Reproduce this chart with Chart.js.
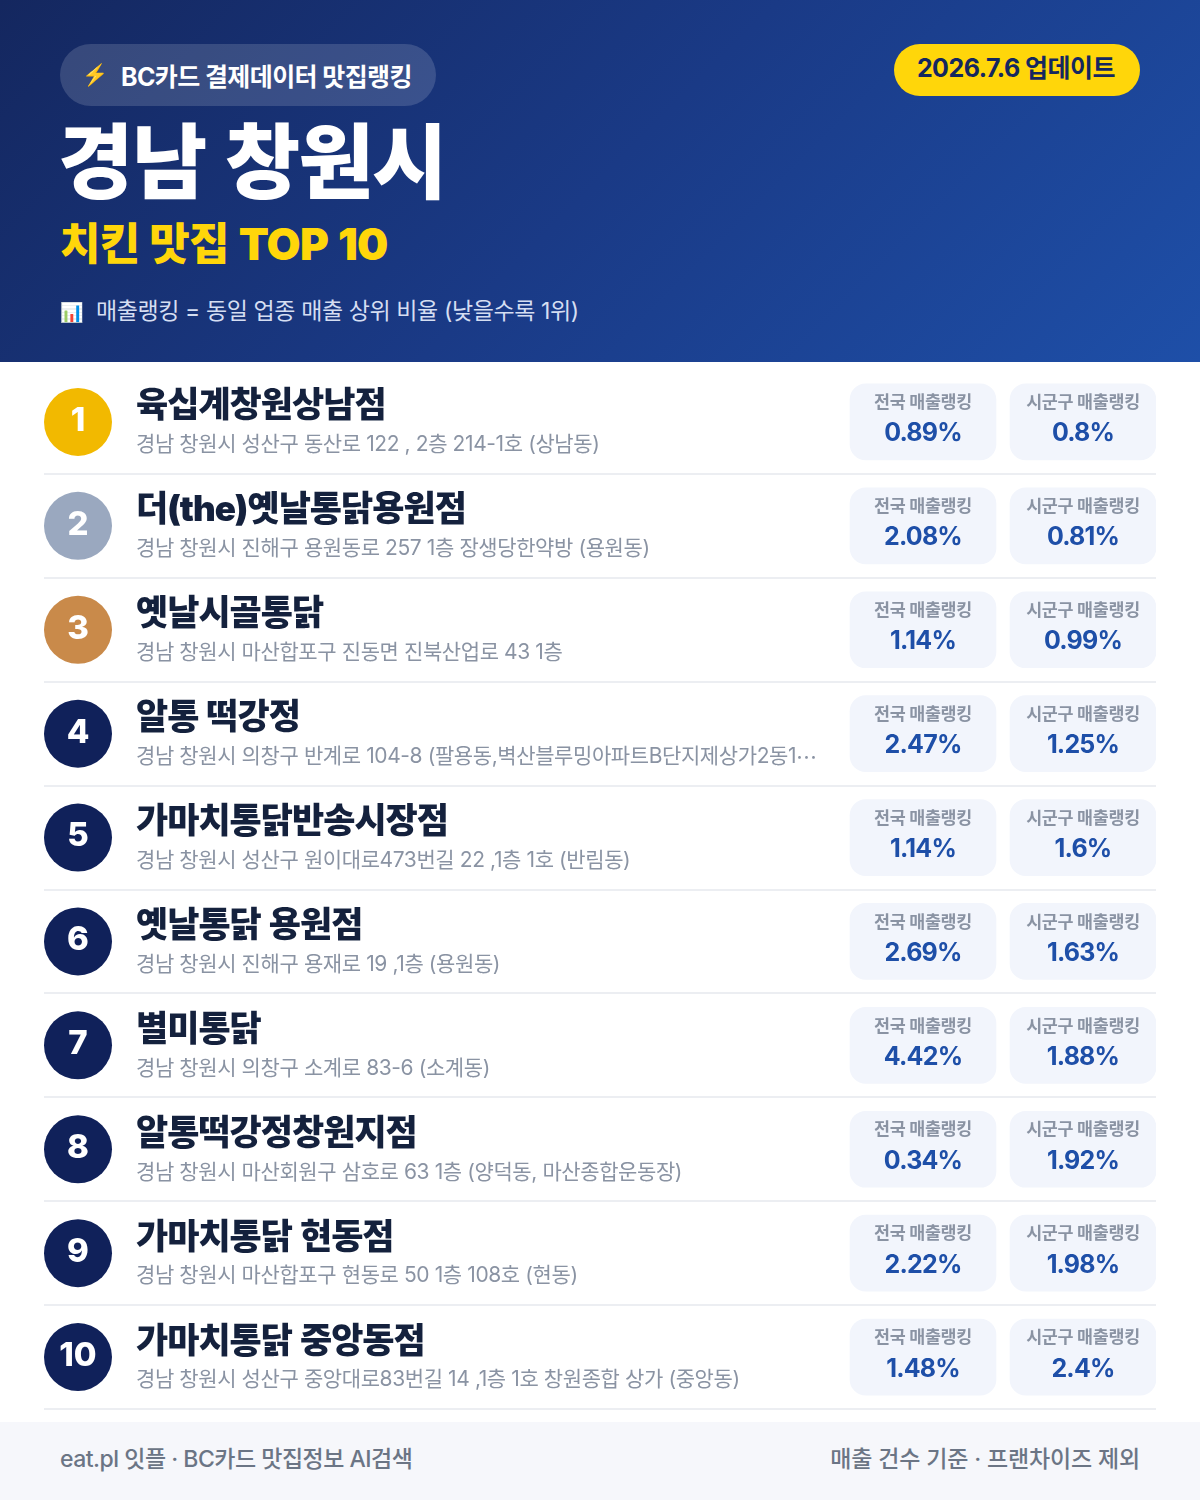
<!DOCTYPE html>
<html lang="ko">
<head>
<meta charset="utf-8">
<style>
  html, body { margin: 0; padding: 0; background: #fff; }
  body { width: 1200px; height: 1500px; position: relative; overflow: hidden; font-family: Inter, "Noto Sans CJK KR", sans-serif; }
  .header { position: absolute; left: 0; top: 0; width: 1200px; height: 362px; background: linear-gradient(135deg, #14275f 0%, #1a3a86 50%, #1e4fa8 100%); color: #fff; }
  .badge { position: absolute; left: 60px; top: 44px; width: 376px; height: 62px; border-radius: 31px; background: rgba(255,255,255,0.15); font-size: 25px; font-weight: 700; line-height: 67px; letter-spacing: -0.6px; white-space: nowrap; }
  .badge .bolt { position: absolute; left: 22px; font-size: 21px; line-height: 62px; }
  .badge .txt { position: absolute; left: 61px; }
  .update { position: absolute; left: 894px; top: 44px; width: 244px; height: 52px; border-radius: 26px; background: #ffd60a; color: #14275f; font-size: 25px; font-weight: 700; line-height: 49px; text-align: center; letter-spacing: -0.5px; padding-right: 2px; }
  .city { position: absolute; left: 58px; top: 108px; font-size: 82px; font-weight: 900; line-height: 110px; letter-spacing: -1.8px; word-spacing: 5px; white-space: nowrap; }
  .sub { position: absolute; left: 60px; top: 210px; font-size: 44px; font-weight: 900; line-height: 68px; color: #ffd60a; letter-spacing: -0.8px; word-spacing: 2px; white-space: nowrap; }
  .note { position: absolute; left: 60px; top: 292px; font-size: 23px; line-height: 38px; color: #d5def2; letter-spacing: -0.4px; }
  .note .icon { font-size: 19px; }
  .note .txt { position: absolute; left: 36px; white-space: nowrap; }
  .chart-wrap { position: absolute; left: 0; top: 362px; width: 1200px; height: 1060px; }
  .footer { position: absolute; left: 0; top: 1422px; width: 1200px; height: 78px; background: #f6f7fb; color: #6b7585; font-size: 23px; font-weight: 500; line-height: 74px; }
  .footer .l { position: absolute; left: 60px; letter-spacing: -0.5px; }
  .footer .r { position: absolute; right: 60px; letter-spacing: -0.15px; }
</style>
</head>
<body>
<div class="header">
  <div class="badge"><span class="bolt">⚡</span><span class="txt">BC카드 결제데이터 맛집랭킹</span></div>
  <div class="update">2026.7.6 업데이트</div>
  <div class="city">경남 창원시</div>
  <div class="sub">치킨 맛집 TOP 10</div>
  <div class="note"><span class="icon">📊</span><span class="txt">매출랭킹 = 동일 업종 매출 상위 비율 (낮을수록 1위)</span></div>
</div>
<div class="chart-wrap"><canvas id="rankChart" width="1200" height="1060"></canvas></div>
<div class="footer"><span class="l">eat.pl 잇플 · BC카드 맛집정보 AI검색</span><span class="r">매출 건수 기준 · 프랜차이즈 제외</span></div>

<script src="https://cdn.jsdelivr.net/npm/chart.js@4/dist/chart.umd.min.js"></script>
<script>
const ranks = ['1', '2', '3', '4', '5', '6', '7', '8', '9', '10'];
const names = ['육십계창원상남점', '더(the)옛날통닭용원점', '옛날시골통닭', '알통 떡강정', '가마치통닭반송시장점', '옛날통닭 용원점', '별미통닭', '알통떡강정창원지점', '가마치통닭 현동점', '가마치통닭 중앙동점'];
const addresses = [
  '경남 창원시 성산구 동산로 122 , 2층 214-1호 (상남동)',
  '경남 창원시 진해구 용원동로 257 1층 장생당한약방 (용원동)',
  '경남 창원시 마산합포구 진동면 진북산업로 43 1층',
  '경남 창원시 의창구 반계로 104-8 (팔용동,벽산블루밍아파트B단지제상가2동1…',
  '경남 창원시 성산구 원이대로473번길 22 ,1층 1호 (반림동)',
  '경남 창원시 진해구 용재로 19 ,1층 (용원동)',
  '경남 창원시 의창구 소계로 83-6 (소계동)',
  '경남 창원시 마산회원구 삼호로 63 1층 (양덕동, 마산종합운동장)',
  '경남 창원시 마산합포구 현동로 50 1층 108호 (현동)',
  '경남 창원시 성산구 중앙대로83번길 14 ,1층 1호 창원종합 상가 (중앙동)'
];
const nationalLabel = '전국 매출랭킹';
const localLabel = '시군구 매출랭킹';
const nationalRank = [0.89, 2.08, 1.14, 2.47, 1.14, 2.69, 4.42, 0.34, 2.22, 1.48];
const localRank = [0.8, 0.81, 0.99, 1.25, 1.6, 1.63, 1.88, 1.92, 1.98, 2.4];
const circleColors = ['#f2b900', '#9aa8bf', '#c98a4a', '#10215a', '#10215a', '#10215a', '#10215a', '#10215a', '#10215a', '#10215a'];

// x axis runs in page pixels, so circles and pills sit where the layout wants them
const nationalPill = [850, 996];
const localPill = [1010, 1156];
const circleX = 78;
const fontStack = 'Inter, "Noto Sans CJK KR", sans-serif';

function fnt(weight, size) {
    return weight + ' ' + size + 'px ' + fontStack;
}

const rowText = {
    id: 'rowText',
    afterDatasetsDraw(chart) {
        const ctx = chart.ctx;
        const y = chart.scales.y;
        const x = chart.scales.x;
        const natX = x.getPixelForValue((nationalPill[0] + nationalPill[1]) / 2);
        const locX = x.getPixelForValue((localPill[0] + localPill[1]) / 2);
        ctx.save();
        ctx.textBaseline = 'middle';
        ranks.forEach(function(rank, i) {
            const cy = y.getPixelForValue(i);
            ctx.textAlign = 'center';
            ctx.fillStyle = '#fff';
            ctx.letterSpacing = '0px';
            ctx.wordSpacing = '0px';
            ctx.font = fnt(800, 33);
            ctx.fillText(rank, x.getPixelForValue(circleX), cy - 1);

            ctx.textAlign = 'left';
            ctx.fillStyle = '#14213d';
            ctx.letterSpacing = '-1px';
            ctx.wordSpacing = '2px';
            ctx.font = fnt(900, 35);
            ctx.fillText(names[i], 136, cy - 15);

            ctx.fillStyle = '#8a93a3';
            ctx.letterSpacing = '-0.4px';
            ctx.wordSpacing = '0px';
            ctx.font = fnt(400, 21);
            // the cut-off mark comes from the CJK face, which sets it mid-height
            var addr = addresses[i];
            var cut = addr.endsWith('…');
            if (cut) addr = addr.slice(0, -1);
            ctx.fillText(addr, 136, cy + 23);
            if (cut) {
                var w = ctx.measureText(addr).width;
                ctx.font = '400 21px "Noto Sans CJK KR", sans-serif';
                ctx.fillText('…', 136 + w, cy + 23);
            }

            ctx.textAlign = 'center';
            ctx.letterSpacing = '-0.3px';
            ctx.fillStyle = '#8a93a3';
            ctx.font = fnt(700, 17.4);
            ctx.fillText(nationalLabel, natX, cy - 19);
            ctx.fillText(localLabel, locX, cy - 19);
            ctx.fillStyle = '#1e4fa8';
            ctx.letterSpacing = '-0.8px';
            ctx.font = fnt(700, 25);
            ctx.fillText(nationalRank[i] + '%', natX, cy + 12);
            ctx.fillText(localRank[i] + '%', locX, cy + 12);
        });
        ctx.restore();
    }
};

new Chart(document.getElementById('rankChart'), {
    data: {
        labels: ranks,
        datasets: [
            {
                type: 'scatter',
                data: ranks.map(function(r) { return { x: circleX, y: r }; }),
                pointRadius: 34,
                pointHoverRadius: 34,
                pointBackgroundColor: circleColors,
                pointBorderWidth: 0
            },
            {
                type: 'bar',
                data: ranks.map(function() { return nationalPill; }),
                backgroundColor: '#f2f5fc',
                borderRadius: 16,
                borderSkipped: false,
                barThickness: 76,
                grouped: false
            },
            {
                type: 'bar',
                data: ranks.map(function() { return localPill; }),
                backgroundColor: '#f2f5fc',
                borderRadius: 16,
                borderSkipped: false,
                barThickness: 76,
                grouped: false
            }
        ]
    },
    options: {
        indexAxis: 'y',
        responsive: false,
        animation: false,
        layout: { autoPadding: false, padding: { left: 44, right: 44, top: 8, bottom: 13 } },
        plugins: { legend: { display: false }, tooltip: { enabled: false } },
        scales: {
            x: { type: 'linear', min: 44, max: 1156, display: false },
            y: {
                type: 'category',
                offset: true,
                grid: {
                    offset: true,
                    lineWidth: 2,
                    drawTicks: false,
                    color: function(c) { return c.index == 0 ? 'transparent' : '#eceef2'; }
                },
                border: { display: false },
                ticks: { display: false }
            }
        }
    },
    plugins: [rowText]
});
</script>
</body>
</html>
